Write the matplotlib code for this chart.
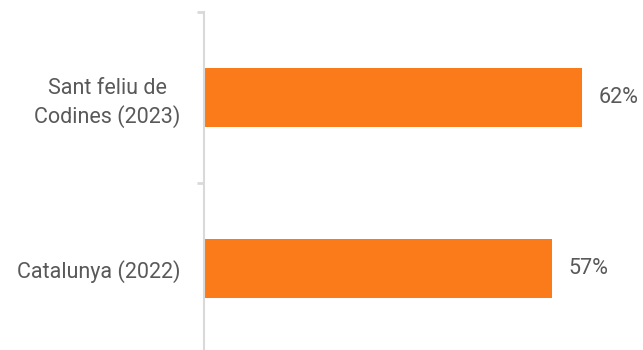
import matplotlib
matplotlib.use("Agg")
import matplotlib.pyplot as plt
from matplotlib.ticker import FixedLocator

categories = ["Catalunya (2022)", "Sant feliu de\nCodines (2023)"]
values = [57, 62]
value_labels = ["57%", "62%"]

plt.rcParams["font.family"] = ["Roboto", "DejaVu Sans"]

fig = plt.figure(figsize=(6.43, 3.5), dpi=100)
ax = fig.add_axes([204 / 643, -4 / 350, 427 / 643, 342 / 350])

pos = list(range(len(categories)))
ax.barh(pos, values, height=0.35, color="#fb7b1b")

for p, v, lab in zip(pos, values, value_labels):
    ax.annotate(lab, (v, p), xytext=(12, 0), textcoords="offset points",
                va="center", ha="left", fontsize=15.5, color="#595959")

ax.set_xlim(0, 70)
ax.set_ylim(-0.5, 1.5)

ax.set_yticks(pos)
ax.set_yticklabels(categories, fontsize=15.5, color="#595959", ha="right",
                   multialignment="center", linespacing=1.35)
ax.tick_params(axis="y", which="major", length=0, pad=17)
ax.yaxis.set_minor_locator(FixedLocator([-0.5, 0.5, 1.5]))
ax.tick_params(axis="y", which="minor", length=5, width=2, color="#d9d9d9")
ax.set_xticks([])

for s in ["top", "right", "bottom"]:
    ax.spines[s].set_visible(False)
ax.spines["left"].set_color("#d9d9d9")
ax.spines["left"].set_linewidth(1.5)

fig.savefig("out.png", dpi=100)
